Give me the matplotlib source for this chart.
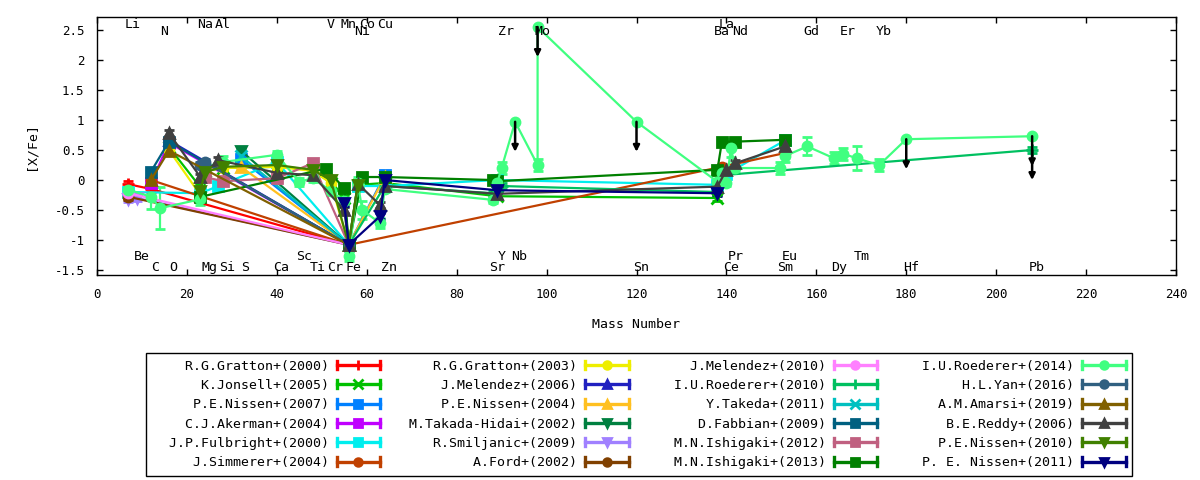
import matplotlib
matplotlib.use('Agg')
import matplotlib.pyplot as plt
from matplotlib.lines import Line2D
from matplotlib.legend_handler import HandlerBase
from matplotlib.ticker import FormatStrFormatter

plt.rcParams['font.family'] = 'DejaVu Sans Mono'
plt.rcParams['axes.unicode_minus'] = False

# ---- data: [X/Fe] vs mass number, one pair of lists per study ----
gratton00_m = [7, 12, 56]
gratton00_v = [-0.07, -0.15, -1.08]

jonsell05_m = [16, 23, 24, 28, 40, 48, 52, 55, 56, 58, 64, 89, 138]
jonsell05_v = [0.55, -0.12, 0.15, 0.2, 0.22, 0.18, -0.05, -0.3, -1.08, -0.08, -0.05, -0.27, -0.3]

nissen07_m = [32, 56, 64]
nissen07_v = [0.35, -1.08, 0.08]

akerman04_m = [12, 16, 56]
akerman04_v = [-0.05, 0.62, -1.08]

fulbright00_m = [7, 23, 27, 40, 56, 58, 64, 89, 138, 140, 153]
fulbright00_v = [-0.2, -0.22, -0.1, 0.3, -1.08, -0.1, -0.1, 0.0, -0.08, 0.1, 0.66]

simmerer04_m = [12, 56, 139, 153]
simmerer04_v = [0.0, -1.08, 0.22, 0.45]

gratton03_m = [16, 23, 24, 28, 40, 48, 52, 56, 58]
gratton03_v = [0.5, -0.25, 0.15, 0.2, 0.22, 0.15, -0.05, -1.08, -0.08]

melendez06_m = [16, 56]
melendez06_v = [0.66, -1.08]

nissen04_m = [32, 56, 64]
nissen04_v = [0.22, -1.08, 0.05]

takada02_m = [32, 56]
takada02_v = [0.49, -1.08]

smiljanic09_m = [7, 9, 56]
smiljanic09_v = [-0.32, -0.3, -1.08]

ford02_m = [7, 56]
ford02_v = [-0.28, -1.08]

melendez10_m = [7, 56]
melendez10_v = [-0.22, -1.08]

roederer10_m = [56, 64, 88, 89, 90, 138, 139, 208]
roederer10_v = [-1.08, -0.1, -0.22, -0.18, -0.1, -0.2, 0.08, 0.5]

takeda11_m = [32, 56]
takeda11_v = [0.4, -1.08]

fabbian09_m = [12, 16, 56]
fabbian09_v = [0.14, 0.64, -1.08]

ishigaki12_m = [24, 28, 40, 48, 56]
ishigaki12_v = [0.05, -0.02, 0.03, 0.28, -1.08]

ishigaki13_m = [23, 51, 55, 56, 59, 64, 88, 89, 138, 139, 142, 153]
ishigaki13_v = [-0.28, 0.19, -0.14, -1.08, 0.05, 0.05, 0.0, -0.02, 0.17, 0.64, 0.64, 0.67]

roederer14_m = [7, 12, 14, 23, 24, 28, 40, 45, 48, 52, 55, 56, 58, 59, 63, 64,
                88, 89, 90, 93, 98, 98, 120, 138, 139, 140, 141, 142, 152, 153,
                158, 164, 166, 169, 174, 180, 208]
roederer14_v = [-0.16, -0.28, -0.47, -0.32, 0.22, 0.3, 0.42, -0.03, 0.03, -0.18, -0.35, -1.27, -0.05, -0.5, -0.72, -0.15,
                -0.33, -0.05, 0.2, 0.97, 0.25, 2.55, 0.97, -0.03, 0.12, -0.05, 0.53, 0.2, 0.2, 0.4,
                0.56, 0.36, 0.44, 0.36, 0.25, 0.68, 0.73]
roederer14_e = [0.03, 0.2, 0.35, 0.1, 0.1, 0.1, 0.07, 0.07, 0.07, 0.07, 0.1, 0.08, 0.1, 0.15, 0.08, 0.05,
                0.05, 0.08, 0.1, 0, 0.1, 0, 0, 0.05, 0.1, 0.05, 0.15, 0.08, 0.1, 0.1,
                0.15, 0.1, 0.1, 0.2, 0.1, 0, 0]

yan16_m = [23, 24, 56]
yan16_v = [0.25, 0.3, -1.08]

amarsi19_m = [12, 16, 56]
amarsi19_v = [0.0, 0.49, -1.08]

reddy06_m = [16, 23, 27, 40, 48, 55, 56, 58, 63, 64, 89, 138, 140, 142, 153]
reddy06_v = [0.78, 0.05, 0.33, 0.12, 0.08, -0.5, -1.08, -0.06, -0.42, -0.1, -0.23, -0.11, 0.17, 0.28, 0.56]

nissen10_m = [23, 24, 28, 40, 48, 52, 56, 58]
nissen10_v = [-0.18, 0.13, 0.22, 0.25, 0.17, 0.0, -1.08, -0.08]

nissen11_m = [55, 56, 63, 64, 89, 138]
nissen11_v = [-0.39, -1.08, -0.6, 0.0, -0.17, -0.22]

default_err = 0.05

# upper limits (arrows pointing down)
ul_mass = [93, 98, 120, 180, 208, 208]
ul_value = [0.97, 2.55, 0.97, 0.68, 0.73, 0.5]
ul_length = 0.5

# element names along top and bottom
top1_names = ['Li', 'Na', 'Al', 'V', 'Mn', 'Co', 'Cu', 'La']
top1_mass = [7, 23, 27, 51, 55, 59, 63, 139]
top2_names = ['N', 'Ni', 'Zr', 'Mo', 'Ba', 'Nd', 'Gd', 'Er', 'Yb']
top2_mass = [14, 58, 90, 98, 138, 142, 158, 166, 174]
bot1_names = ['Be', 'Sc', 'Y', 'Nb', 'Pr', 'Eu', 'Tm']
bot1_mass = [9, 45, 89, 93, 141, 153, 169]
bot2_names = ['C', 'O', 'Mg', 'Si', 'S', 'Ca', 'Ti', 'Cr', 'Fe', 'Zn', 'Sr', 'Sn',
              'Ce', 'Sm', 'Dy', 'Hf', 'Pb']
bot2_mass = [12, 16, 24, 28, 32, 40, 48, 52, 56, 64, 88, 120, 140, 152, 164, 180, 208]

series = [
    ('R.G.Gratton+(2000)', gratton00_m, gratton00_v, '#ff0000', '+'),
    ('K.Jonsell+(2005)', jonsell05_m, jonsell05_v, '#00c000', 'x'),
    ('P.E.Nissen+(2007)', nissen07_m, nissen07_v, '#0080ff', 's'),
    ('C.J.Akerman+(2004)', akerman04_m, akerman04_v, '#c000ff', 's'),
    ('J.P.Fulbright+(2000)', fulbright00_m, fulbright00_v, '#00eeee', 's'),
    ('J.Simmerer+(2004)', simmerer04_m, simmerer04_v, '#c04000', 'o'),
    ('R.G.Gratton+(2003)', gratton03_m, gratton03_v, '#eeee00', 'o'),
    ('J.Melendez+(2006)', melendez06_m, melendez06_v, '#2020c0', '^'),
    ('P.E.Nissen+(2004)', nissen04_m, nissen04_v, '#ffc020', '^'),
    ('M.Takada-Hidai+(2002)', takada02_m, takada02_v, '#008040', 'v'),
    ('R.Smiljanic+(2009)', smiljanic09_m, smiljanic09_v, '#a080ff', 'v'),
    ('A.Ford+(2002)', ford02_m, ford02_v, '#804000', 'o'),
    ('J.Melendez+(2010)', melendez10_m, melendez10_v, '#ff80ff', 'o'),
    ('I.U.Roederer+(2010)', roederer10_m, roederer10_v, '#00c060', '+'),
    ('Y.Takeda+(2011)', takeda11_m, takeda11_v, '#00c0c0', 'x'),
    ('D.Fabbian+(2009)', fabbian09_m, fabbian09_v, '#006080', 's'),
    ('M.N.Ishigaki+(2012)', ishigaki12_m, ishigaki12_v, '#c06080', 's'),
    ('M.N.Ishigaki+(2013)', ishigaki13_m, ishigaki13_v, '#008000', 's'),
    ('I.U.Roederer+(2014)', roederer14_m, roederer14_v, '#40ff80', 'o'),
    ('H.L.Yan+(2016)', yan16_m, yan16_v, '#306080', 'o'),
    ('A.M.Amarsi+(2019)', amarsi19_m, amarsi19_v, '#806000', '^'),
    ('B.E.Reddy+(2006)', reddy06_m, reddy06_v, '#404040', '^'),
    ('P.E.Nissen+(2010)', nissen10_m, nissen10_v, '#408000', 'v'),
    ('P. E. Nissen+(2011)', nissen11_m, nissen11_v, '#000080', 'v'),
]


class BarHandler(HandlerBase):
    # gnuplot-like key sample: |---o---|
    def create_artists(self, legend, orig, xdescent, ydescent, width, height, fontsize, trans):
        x0 = -xdescent
        x1 = x0 + width
        yc = height / 2 - ydescent
        cap = height * 0.45
        c = orig.get_color()
        lw = orig.get_linewidth()
        arts = [Line2D([x0, x1], [yc, yc], color=c, lw=lw),
                Line2D([x0, x0], [yc - cap, yc + cap], color=c, lw=lw),
                Line2D([x1, x1], [yc - cap, yc + cap], color=c, lw=lw),
                Line2D([(x0 + x1) / 2], [yc], color=c, marker=orig.get_marker(),
                       ms=orig.get_markersize(), mew=orig.get_markeredgewidth(), ls='none')]
        for a in arts:
            a.set_transform(trans)
        return arts


fig = plt.figure(figsize=(12, 4.8), dpi=100)
ax = fig.add_axes([97 / 1200, 1 - 275 / 480, 1079 / 1200, 258 / 480])

handles = []
for label, m, v, col, mk in series:
    if label == 'I.U.Roederer+(2014)':
        err = roederer14_e
    else:
        err = [default_err] * len(v)
    ms = 8.5 if mk in '+x' else 6.5
    ax.errorbar(m, v, yerr=err, color=col, marker=mk, ms=ms, mew=2,
                lw=1.6, elinewidth=1.6, capsize=3.5, capthick=1.6)
    handles.append(Line2D([], [], color=col, marker=mk, ms=ms * 0.85, mew=2, lw=2.4))

for x, y in zip(ul_mass, ul_value):
    ax.annotate('', xy=(x, y - ul_length), xytext=(x, y),
                arrowprops=dict(arrowstyle='-|>', color='black', lw=1.8,
                                mutation_scale=9, shrinkA=0, shrinkB=0))

# element labels
for names, masses, yy in [(top1_names, top1_mass, 2.59), (top2_names, top2_mass, 2.47),
                          (bot1_names, bot1_mass, -1.28), (bot2_names, bot2_mass, -1.45)]:
    for n, mm in zip(names, masses):
        ax.text(mm + 1, yy, n, ha='center', va='center', fontsize=9.5)

ax.set_xlim(0, 240)
ax.set_ylim(-1.583, 2.717)
ax.set_xticks(range(0, 241, 20))
ax.set_yticks([-1.5, -1, -0.5, 0, 0.5, 1, 1.5, 2, 2.5])
ax.yaxis.set_major_formatter(FormatStrFormatter('%g'))
ax.tick_params(direction='in', top=True, right=True, length=4, width=1,
               labelsize=9, pad=9)
ax.tick_params(axis='y', pad=9)
for s in ax.spines.values():
    s.set_linewidth(1)

ax.set_xlabel('Mass Number', fontsize=9.5)
ax.set_ylabel('[X/Fe]', fontsize=9.5)
ax.xaxis.set_label_coords(0.5, -0.165)
ax.yaxis.set_label_coords(-0.055, 0.5)

labels = [s[0].rjust(22) for s in series]
leg = fig.legend(handles, labels, ncol=4, loc='upper left',
                 bbox_to_anchor=(146 / 1200, 1 - 353 / 480),
                 handler_map={Line2D: BarHandler()}, markerfirst=False,
                 fontsize=9.5, handlelength=3.3, handletextpad=0.6,
                 columnspacing=1.6, labelspacing=0.48, borderpad=0.5,
                 borderaxespad=0, fancybox=False, framealpha=1, edgecolor='black')
leg.get_frame().set_linewidth(1)

fig.savefig('out.png', dpi=100)
